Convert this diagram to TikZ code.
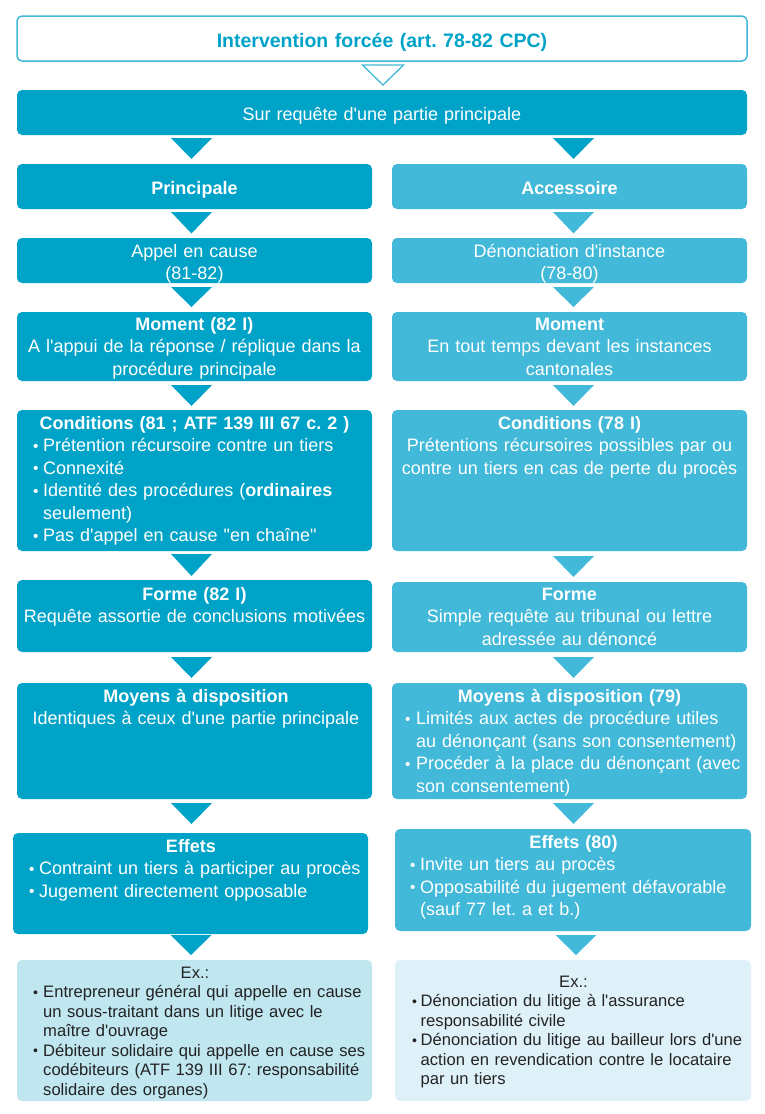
\documentclass[tikz,border=0pt]{standalone}
\usepackage{graphicx}
\usepackage{fontspec}
\setmainfont{Liberation Sans}[Ligatures=TeXOff]
\usetikzlibrary{calc}
\frenchspacing
\definecolor{dk}{RGB}{0,163,200}
\definecolor{lt}{RGB}{66,185,216}
\definecolor{exl}{RGB}{192,230,240}
\definecolor{exr}{RGB}{223,241,248}
\definecolor{extx}{RGB}{35,35,35}
\newcommand\fM{\fontsize{18}{22.5}\selectfont}
\newcommand\fE{\fontsize{16.6}{19.5}\selectfont}
\newcommand\fT{\fontsize{19.5}{23}\selectfont}
\newcommand\bulx[1][10pt]{\makebox[#1][l]{\raisebox{0.5pt}{\scalebox{0.85}{•}}}}
\newcommand\indx[1][10pt]{\hspace*{#1}}
% triangle connector: style, from, to, dx, gap below from, gap above to
\newcommand\tri[6]{\path[#1] let \p1=(#2.south), \p2=(#3.north) in
  (\x1+#4pt-20.5pt,\y1-#5pt) -- (\x1+#4pt+20.5pt,\y1-#5pt) -- (\x1+#4pt,\y2+#6pt) -- cycle;}
\tikzset{
  bx/.style={rounded corners=5pt, inner sep=0pt, outer sep=0pt, anchor=north west},
  ctx/.style={inner sep=0pt, anchor=base, text width=#1, align=center, text=white, font=\fM},
  ctx/.default=360pt,
  ltx/.style={inner sep=0pt, anchor=base west, text width=#1, align=left, text=white, font=\fM},
  ltx/.default=345pt,
}
\begin{document}
\begin{tikzpicture}[x=1pt,y=-1pt]
\useasboundingbox (0,0) rectangle (764,1114);
% boxes
\node[bx, fill=white, draw=lt, line width=1.5pt, minimum width=730pt, minimum height=45pt] (title) at (17,16) {};
\node[bx, fill=dk, minimum width=730pt, minimum height=45pt] (bar) at (17,90) {};
\node[bx, fill=dk, minimum width=355pt, minimum height=45pt] (prin) at (17,164) {};
\node[bx, fill=lt, minimum width=355pt, minimum height=45pt] (acc) at (392,164) {};
\node[bx, fill=dk, minimum width=355pt, minimum height=45pt] (appel) at (17,238) {};
\node[bx, fill=lt, minimum width=355pt, minimum height=45pt] (denon) at (392,238) {};
\node[bx, fill=dk, minimum width=355pt, minimum height=69pt] (momL) at (17,312) {};
\node[bx, fill=lt, minimum width=355pt, minimum height=69pt] (momR) at (392,312) {};
\node[bx, fill=dk, minimum width=355pt, minimum height=141pt] (condL) at (17,410) {};
\node[bx, fill=lt, minimum width=355pt, minimum height=141pt] (condR) at (392,410) {};
\node[bx, fill=dk, minimum width=355pt, minimum height=72pt] (formL) at (17,580) {};
\node[bx, fill=lt, minimum width=355pt, minimum height=70pt] (formR) at (392,582) {};
\node[bx, fill=dk, minimum width=355pt, minimum height=116pt] (moyL) at (17,683) {};
\node[bx, fill=lt, minimum width=355pt, minimum height=116pt] (moyR) at (392,683) {};
\node[bx, fill=dk, minimum width=355pt, minimum height=101pt] (effL) at (13,833) {};
\node[bx, fill=lt, minimum width=356pt, minimum height=102pt] (effR) at (395,829) {};
\node[bx, fill=exl, minimum width=355pt, minimum height=141pt] (exL) at (17,960) {};
\node[bx, fill=exr, minimum width=356pt, minimum height=141pt] (exR) at (395,960) {};
% triangles
\tri{draw=lt, fill=white, line width=1.3pt}{title}{bar}{1}{4}{5}
\tri{fill=dk}{bar}{prin}{-190.5}{3}{5}
\tri{fill=dk}{bar}{acc}{191.5}{3}{5}
\tri{fill=dk}{prin}{appel}{-3}{3}{4.5}
\tri{fill=lt}{acc}{denon}{4}{3}{4.5}
\tri{fill=dk}{appel}{momL}{-3}{4}{5}
\tri{fill=lt}{denon}{momR}{4}{4}{5}
\tri{fill=dk}{momL}{condL}{-3}{4}{4}
\tri{fill=lt}{momR}{condR}{4}{4}{4}
\tri{fill=dk}{condL}{formL}{-3}{3}{4}
\tri{fill=lt}{condR}{formR}{4}{5}{5}
\tri{fill=dk}{formL}{moyL}{-3}{5}{5}
\tri{fill=lt}{formR}{moyR}{4}{5}{5}
\tri{fill=dk}{moyL}{effL}{-3}{4}{9}
\tri{fill=lt}{moyR}{effR}{4}{4}{5}
\tri{fill=dk}{effL}{exL}{0.5}{1}{5}
\tri{fill=lt}{effR}{exR}{3}{4}{5}
% texts
\node[ctx, font=\fT\bfseries, text=dk] (titleT) at (382,47) {Intervention forcée (art. 78-82 CPC)};
\node[ctx] (barT) at (382,120.5) {Sur requête d'une partie principale};
\node[ctx, font=\fM\bfseries] (prinT) at (194.5,194) {Principale};
\node[ctx, font=\fM\bfseries] (accT) at (569.5,194) {Accessoire};
\node[ctx] (appelT) at (194.5,257) {Appel en cause\\(81-82)};
\node[ctx] (denonT) at (569.5,257) {Dénonciation d'instance\\(78-80)};
\node[ctx] (momLT) at (194.5,330) {\textbf{Moment (82 I)}\\A l'appui de la réponse / réplique dans la\\procédure principale};
\node[ctx] (momRT) at (569.5,330) {\textbf{Moment}\\En tout temps devant les instances\\cantonales};
\node[ctx] (condLH) at (194.5,429) {\textbf{Conditions (81 ; ATF 139 III 67 c. 2 )}};
\node[ltx] (condLT) at (33,451.5) {\bulx Prétention récursoire contre un tiers\\\bulx Connexité\\\bulx Identité des procédures (\textbf{ordinaires}\\\indx seulement)\\\bulx Pas d'appel en cause "en chaîne"};
\node[ctx] (condRT) at (569.5,429) {\textbf{Conditions (78 I)}\\Prétentions récursoires possibles par ou\\contre un tiers en cas de perte du procès};
\node[ctx] (formLT) at (194.5,600) {\textbf{Forme (82 I)}\\Requête assortie de conclusions motivées};
\node[ctx] (formRT) at (569.5,600) {\textbf{Forme}\\Simple requête au tribunal ou lettre\\adressée au dénoncé};
\node[ctx] (moyLT) at (196,702) {\textbf{Moyens à disposition}\\Identiques à ceux d'une partie principale};
\node[ctx] (moyRH) at (569.5,702) {\textbf{Moyens à disposition (79)}};
\node[ltx] (moyRT) at (405,724.5) {\bulx[11pt]Limités aux actes de procédure utiles\\\indx[11pt]au dénonçant (sans son consentement)\\\bulx[11pt]Procéder à la place du dénonçant (avec\\\indx[11pt]son consentement)};
\node[ctx, font=\fM\bfseries] (effLH) at (191,852) {Effets};
\node[ltx] (effLT) at (29,874.5) {\bulx Contraint un tiers à participer au procès\\\bulx Jugement directement opposable};
\node[ctx, font=\fM\bfseries] (effRH) at (573.5,848) {Effets (80)};
\node[ltx] (effRT) at (410,870.5) {\bulx Invite un tiers au procès\\\bulx Opposabilité du jugement défavorable\\\indx (sauf 77 let. a et b.)};
\node[ctx, font=\fE, text=extx] (exLH) at (195,978) {Ex.:};
\node[ltx, font=\fE, text=extx] (exLT) at (33,997.5) {\bulx Entrepreneur général qui appelle en cause\\\indx un sous-traitant dans un litige avec le\\\indx maître d'ouvrage\\\bulx Débiteur solidaire qui appelle en cause ses\\\indx codébiteurs (ATF 139 III 67: responsabilité\\\indx solidaire des organes)};
\node[ctx, font=\fE, text=extx] (exRH) at (573.5,987) {Ex.:};
\node[ltx, font=\fE, text=extx] (exRT) at (412,1006.5) {\bulx[8.5pt]Dénonciation du litige à l'assurance\\\indx[8.5pt]responsabilité civile\\\bulx[8.5pt]Dénonciation du litige au bailleur lors d'une\\\indx[8.5pt]action en revendication contre le locataire\\\indx[8.5pt]par un tiers};
\end{tikzpicture}
\end{document}
